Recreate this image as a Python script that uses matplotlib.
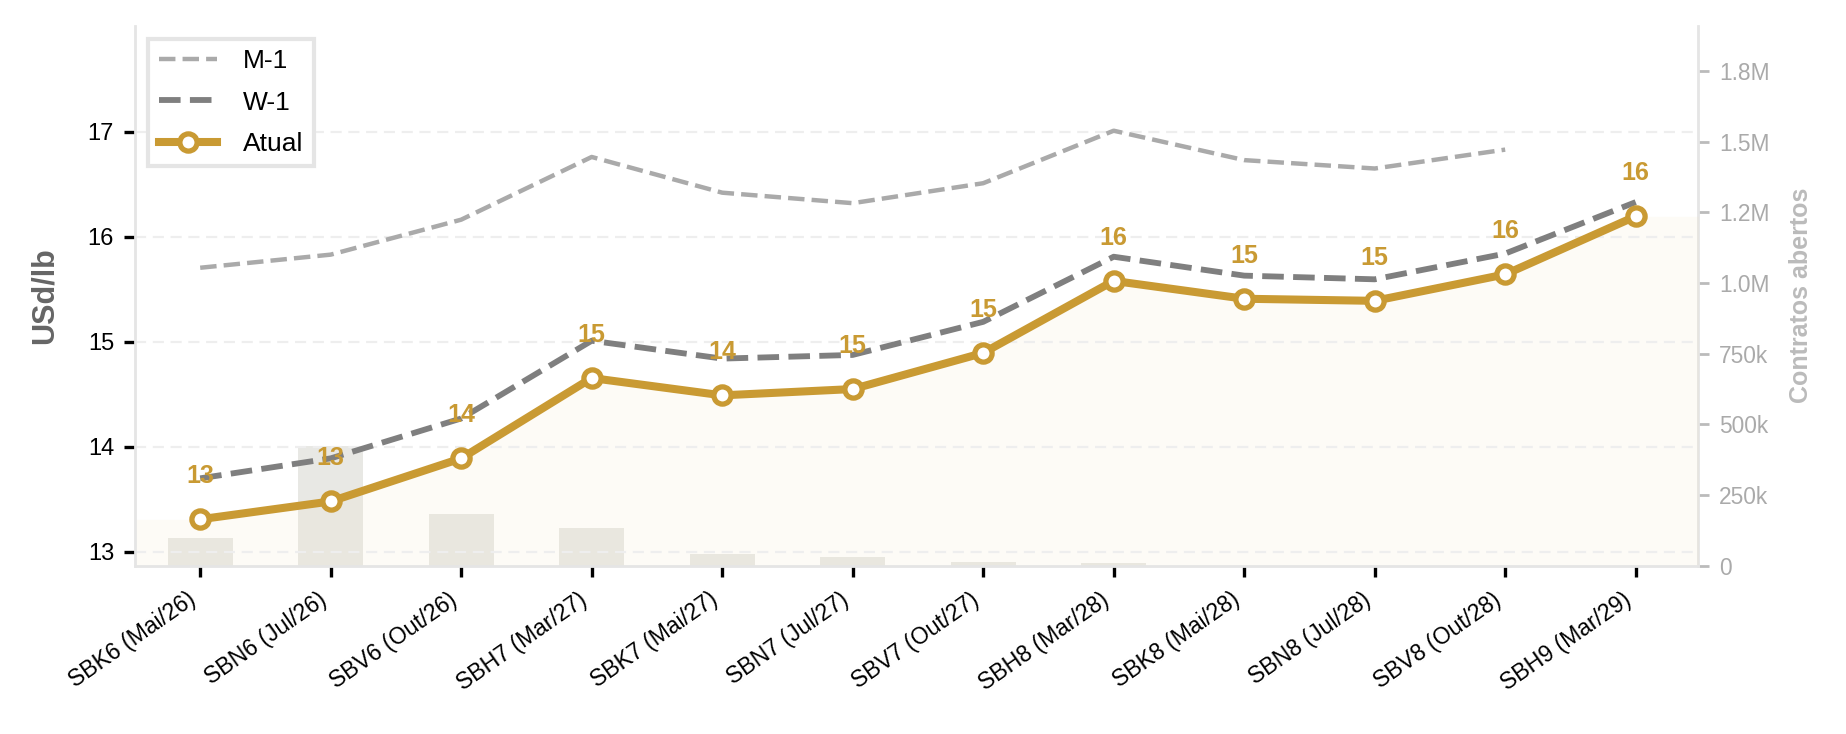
import matplotlib
matplotlib.use("Agg")
import matplotlib.pyplot as plt
from matplotlib.ticker import MultipleLocator, FuncFormatter
import numpy as np

plt.rcParams['font.family'] = ['Liberation Sans', 'DejaVu Sans']

categories = ["SBK6 (Mai/26)", "SBN6 (Jul/26)", "SBV6 (Out/26)", "SBH7 (Mar/27)",
              "SBK7 (Mai/27)", "SBN7 (Jul/27)", "SBV7 (Out/27)", "SBH8 (Mar/28)",
              "SBK8 (Mai/28)", "SBN8 (Jul/28)", "SBV8 (Out/28)", "SBH9 (Mar/29)"]
atual = [13.31, 13.48, 13.89, 14.655, 14.49, 14.55, 14.894, 15.58, 15.41, 15.39, 15.642, 16.195]
w1 = [13.70, 13.89, 14.27, 15.01, 14.84, 14.875, 15.19, 15.81, 15.63, 15.595, 15.84, 16.33]
m1 = [15.705, 15.83, 16.163, 16.76, 16.42, 16.32, 16.51, 17.01, 16.73, 16.65, 16.83, np.nan]
open_interest = [97000, 424000, 185000, 135000, 41000, 33000, 15000, 12000, 0, 0, 0, 0]

GOLD = "#C99A33"
x = np.arange(len(categories))

fig = plt.figure(figsize=(9.23, 3.67), dpi=200)
ax = fig.add_axes([0.0731, 0.229, 0.8469, 0.736])
ax2 = ax.twinx()

# bars on the secondary axis
ax2.bar(x, open_interest, width=0.5, color="#E8E8E4", zorder=1)
ax2.set_ylim(0, 1.91e6)
ax2.yaxis.set_major_locator(MultipleLocator(250000))

def fmt(v, pos):
    if v >= 1e6:
        return f"{v/1e6:.1f}M"
    if v > 0:
        return f"{v/1e3:.0f}k"
    return "0"

ax2.yaxis.set_major_formatter(FuncFormatter(fmt))
ax2.tick_params(axis='y', colors="#BBBBBB", labelcolor="#AAAAAA", labelsize=8.2, length=4, width=1.0)
ax2.set_ylabel("Contratos abertos", color="#BBBBBB", fontsize=9, fontweight='bold', labelpad=7)
for s in ["top", "left", "bottom"]:
    ax2.spines[s].set_visible(False)
ax2.spines["right"].set_color("#E5E5E5")
ax2.spines["right"].set_linewidth(1.0)

ax.set_zorder(ax2.get_zorder() + 1)
ax.patch.set_visible(False)

xlo, xhi = -0.5, 11.48
ax.set_xlim(xlo, xhi)
ax.set_ylim(12.866, 18.01)

# faint fill below the current curve, extended to the edges
fx = np.concatenate([[xlo], x, [xhi]])
fy = np.concatenate([[atual[0]], atual, [atual[-1]]])
ax.fill_between(fx, fy, 12.866, color="#F3E4BC", alpha=0.12, lw=0, zorder=0)

ax.plot(x, m1, color="#AAAAAA", lw=1.6, ls="--", label="M-1", zorder=2)
ax.plot(x, w1, color="#7F7F7F", lw=2.1, ls="--", label="W-1", zorder=3)
ax.plot(x, atual, color=GOLD, lw=2.9, marker="o", ms=6.2, mfc="white", mec=GOLD, mew=1.9,
        label="Atual", zorder=4)

for xi, yi in zip(x, atual):
    ax.annotate(f"{yi:.0f}", (xi, yi), xytext=(0, 15.5), textcoords="offset points",
                ha="center", va="center", color=GOLD, fontsize=9, fontweight="bold", zorder=6)

ax.set_yticks([13, 14, 15, 16, 17])
ax.set_xticks(x)
ax.set_xticklabels(categories, rotation=35, ha="right", fontsize=8.3)
ax.tick_params(axis='y', labelsize=8.5, length=4, width=1.2, colors="black")
ax.tick_params(axis='x', length=4, width=1.2, colors="black", pad=4)
ax.grid(axis='y', color="#EEEEEE", lw=0.8, ls=(0, (5, 3)), zorder=0)
ax.set_axisbelow(True)

for s in ["top", "right"]:
    ax.spines[s].set_visible(False)
for s in ["left", "bottom"]:
    ax.spines[s].set_color("#E5E5E5")
    ax.spines[s].set_linewidth(1.0)

ax.set_ylabel("USd/lb", color="#666666", fontsize=11, fontweight="bold", labelpad=10)

leg = ax.legend(loc="upper left", fontsize=9.5, fancybox=False, edgecolor="#E5E5E5",
                framealpha=1.0, handlelength=2.2, labelspacing=0.65, handletextpad=1.0)
leg.get_frame().set_linewidth(1.5)

fig.savefig("out.png", dpi=200)
